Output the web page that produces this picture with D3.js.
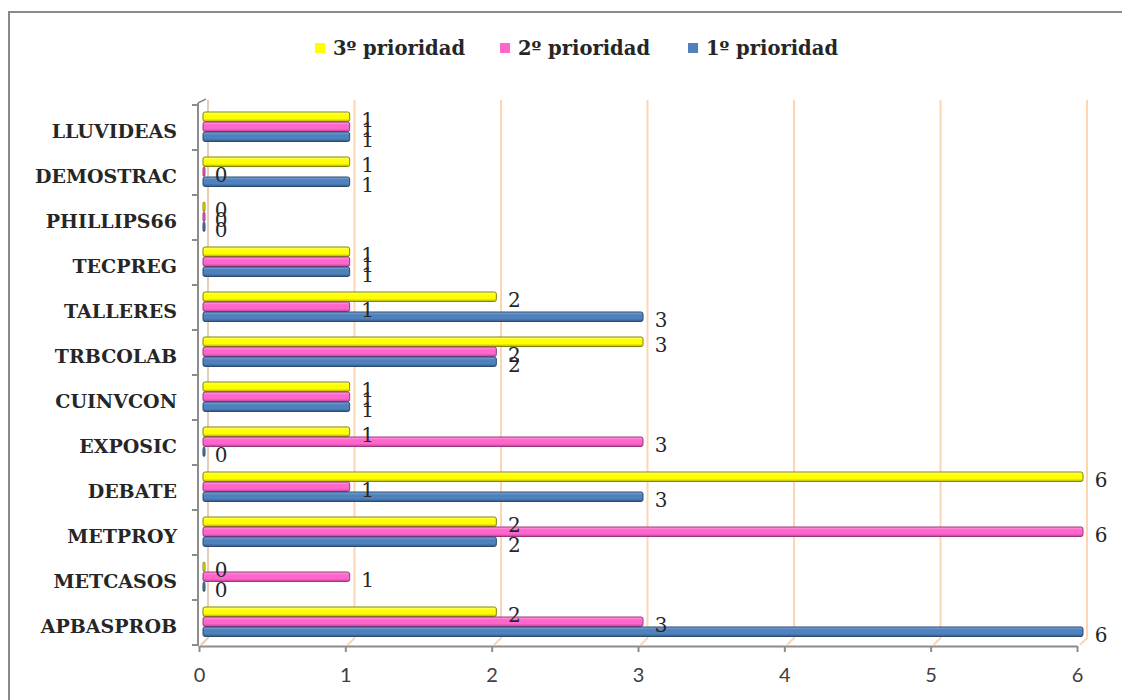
<!DOCTYPE html>
<html>
<head>
<meta charset="utf-8">
<script src="https://cdn.jsdelivr.net/npm/d3@7"></script>
<style>
  html, body { margin: 0; padding: 0; background: #ffffff; }
  svg { display: block; }
</style>
</head>
<body>
<svg id="chart" width="1122" height="700"></svg>
<script>
// ---- data ----
const categories = ["LLUVIDEAS","DEMOSTRAC","PHILLIPS66","TECPREG","TALLERES","TRBCOLAB","CUINVCON","EXPOSIC","DEBATE","METPROY","METCASOS","APBASPROB"];
const tercera  = [1,1,0,1,2,3,1,1,6,2,0,2];   // 3º prioridad
const segunda  = [1,0,0,1,1,2,1,3,1,6,1,3];   // 2º prioridad
const primera  = [1,1,0,1,3,2,1,0,3,2,0,6];   // 1º prioridad
const seriesNames = ["3º prioridad","2º prioridad","1º prioridad"];
const xTicks = [0,1,2,3,4,5,6];

const seriesValues = [tercera, segunda, primera];
const colors = [
  {id:"gY", top:"#ffff90", base:"#ffff00", bot:"#b0b000", stroke:"#858500"},
  {id:"gP", top:"#ffa0e0", base:"#ff66cc", bot:"#c0409a", stroke:"#98367a"},
  {id:"gB", top:"#86acdc", base:"#4f81bd", bot:"#335a88", stroke:"#2a4a70"}
];

const svg = d3.select("#chart");

// gradients
const defs = svg.append("defs");
colors.forEach(c => {
  const g = defs.append("linearGradient").attr("id", c.id)
    .attr("x1",0).attr("y1",0).attr("x2",0).attr("y2",1);
  g.append("stop").attr("offset","0%").attr("stop-color", c.top);
  g.append("stop").attr("offset","30%").attr("stop-color", c.base);
  g.append("stop").attr("offset","70%").attr("stop-color", c.base);
  g.append("stop").attr("offset","100%").attr("stop-color", c.bot);
});

// outer frame
svg.append("rect").attr("x",9).attr("y",12).attr("width",1300).attr("height",900)
  .attr("fill","none").attr("stroke","#8a8a8a").attr("stroke-width",2);

// scales
const y = d3.scaleBand().domain(categories).range([105, 645]);
const xa = d3.scaleLinear().domain([0,6]).range([199, 1077]);   // axis
const xb = d3.scaleLinear().domain([0,6]).range([203, 1083]);   // bars
const xg = d3.scaleLinear().domain([0,6]).range([208, 1087]);   // back wall grid

// gridlines (back wall) with floor diagonal
const grid = svg.append("g");
xTicks.forEach(t => {
  const gx = xg(t);
  grid.append("path")
    .attr("d", `M${gx},100 L${gx},638 L${gx-7},645`)
    .attr("fill","none")
    .attr("stroke", t === 0 ? "#e6cdb8" : "#fcd5b5")
    .attr("stroke-width", 2);
});

// horizontal (value) axis
const xAxis = d3.axisBottom(xa).tickValues(xTicks).tickSize(6).tickSizeOuter(0).tickPadding(16)
  .tickFormat(d3.format("d"));
const gx = svg.append("g").attr("transform","translate(0,646)").call(xAxis);
gx.select(".domain").attr("stroke","#8c8c8c").attr("stroke-width",2);
gx.selectAll(".tick line").attr("stroke","#8c8c8c").attr("stroke-width",2);
gx.selectAll(".tick text")
  .attr("font-family","Lato, 'Open Sans', sans-serif")
  .attr("font-size", 20).attr("fill","#404040");

// vertical (category) axis
const axL = svg.append("g");
axL.append("line").attr("x1",198).attr("x2",198).attr("y1",103).attr("y2",646)
  .attr("stroke","#8c8c8c").attr("stroke-width",2);
axL.append("line").attr("x1",198).attr("x2",206).attr("y1",103).attr("y2",99)
  .attr("stroke","#8c8c8c").attr("stroke-width",1.5);
const bounds = categories.map(c => y(c)).concat([y.range()[1]]);
axL.selectAll("line.tk").data(bounds).join("line").attr("class","tk")
  .attr("x1",192).attr("x2",198).attr("y1",d=>d).attr("y2",d=>d)
  .attr("stroke","#8c8c8c").attr("stroke-width",2);
axL.selectAll("text").data(categories).join("text")
  .attr("x",177).attr("y", d => y(d) + y.bandwidth()/2 + 10)
  .attr("text-anchor","end")
  .attr("font-family","'DejaVu Serif', serif").attr("font-weight","bold")
  .attr("font-size",19).attr("fill","#262626")
  .text(d => d);

// bars
const barH = 10, slot = 10, off = 7;
const bars = svg.append("g");
seriesValues.forEach((vals, si) => {
  const c = colors[si];
  const gS = bars.append("g");
  gS.selectAll("rect").data(categories).join("rect")
    .attr("x", xb(0))
    .attr("y", (d) => y(d) + off + si*slot)
    .attr("width", (d,i) => Math.max(2, xb(vals[i]) - xb(0)))
    .attr("height", barH - 0.5)
    .attr("rx", 2)
    .attr("fill", `url(#${c.id})`)
    .attr("stroke", c.stroke).attr("stroke-width", 1);
});

// data labels
const labels = svg.append("g");
seriesValues.forEach((vals, si) => {
  labels.append("g").selectAll("text").data(categories).join("text")
    .attr("x", (d,i) => xb(vals[i]) + 18)
    .attr("y", d => y(d) + off + si*slot + barH/2 + 10)
    .attr("text-anchor","middle")
    .attr("font-family","'DejaVu Serif', serif")
    .attr("font-size",20).attr("fill","#262626")
    .text((d,i) => vals[i]);
});

// legend
const legendX = [315, 500, 688];
const leg = svg.append("g");
seriesNames.forEach((name, i) => {
  leg.append("rect").attr("x", legendX[i]).attr("y", 43).attr("width", 10).attr("height", 10)
    .attr("fill", colors[i].base);
  leg.append("text").attr("x", legendX[i] + 18).attr("y", 55)
    .attr("font-family","'DejaVu Serif', serif").attr("font-weight","bold")
    .attr("font-size",19.5).attr("fill","#262626")
    .text(name);
});
</script>
</body>
</html>
